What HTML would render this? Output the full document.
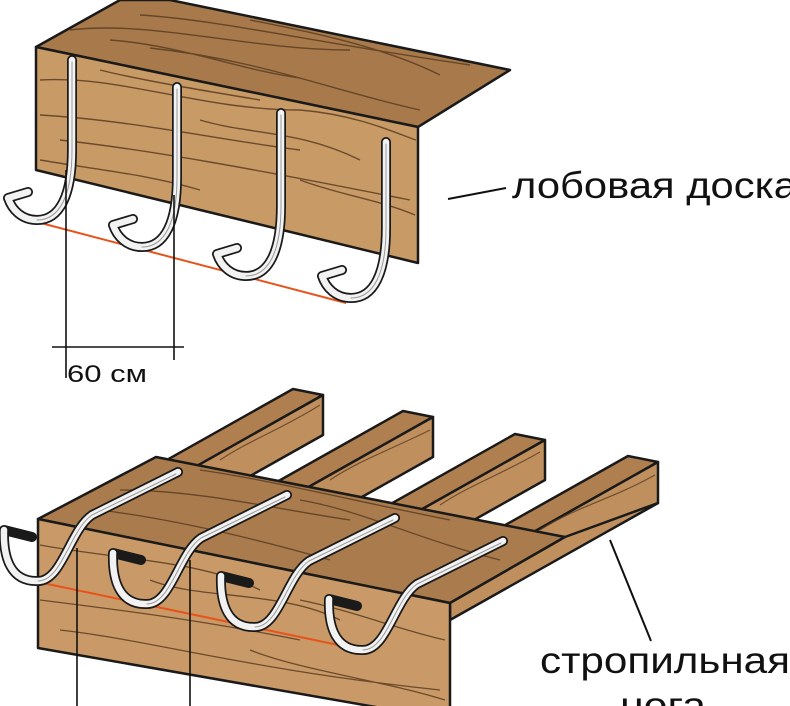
<!DOCTYPE html>
<html><head><meta charset="utf-8"><style>
html,body{margin:0;padding:0;background:#fff;width:790px;height:706px;overflow:hidden}
svg{display:block}
text{font-family:"Liberation Sans","DejaVu Sans",sans-serif;fill:#111}
</style></head><body>
<svg width="790" height="706" viewBox="0 0 790 706" xmlns="http://www.w3.org/2000/svg">
<!-- TOP BOARD -->
<polygon points="36,47 120,0 170,0 510,70 418,127" fill="#a87a4b" stroke="#1a1a1a" stroke-width="2.5" stroke-linejoin="round"/>
<polygon points="36,47 418,127 418,263 36,170" fill="#c89a66" stroke="#1a1a1a" stroke-width="2.5" stroke-linejoin="round"/>
<g fill="none" stroke="#5a3d22" stroke-width="1.4" opacity="0.85">
<path d="M70,30 C150,20 250,50 350,50 M140,15 C220,20 300,40 470,65 M150,48 C260,60 330,90 420,110 M110,40 C180,45 240,70 300,78 M250,20 C300,30 380,45 440,75"/>
<path d="M40,80 C120,75 200,110 300,110 C360,115 400,135 416,140 M40,115 C130,120 220,140 300,150 M100,70 C140,80 200,90 260,100 M60,140 C150,150 260,170 410,200 M200,120 C250,135 300,130 360,160 M300,180 C340,195 380,200 415,215 M40,160 C100,170 150,175 200,190"/>
</g>
<line x1="448" y1="199" x2="506" y2="188" stroke="#111" stroke-width="2"/>
<text x="512" y="198" font-size="37" textLength="285" lengthAdjust="spacingAndGlyphs">лобовая доска</text>
<line x1="37" y1="222" x2="346" y2="303" stroke="#e8531c" stroke-width="2"/>
<!-- top hooks -->
<g fill="none" stroke-linecap="round" stroke-linejoin="round">
<g>
<path d="M72,60 L72,150 C72,195 60,220 37,220 C22,220 12,210 8,198 L28,192" stroke="#1a1a1a" stroke-width="10"/>
<path d="M72,60 L72,150 C72,195 60,220 37,220 C22,220 12,210 8,198 L28,192" stroke="#f2f2f2" stroke-width="6.5"/>
<path d="M72,62 L72,150 C72,195 60,220 37,220" stroke="#999" stroke-width="1"/>
</g>
<g transform="translate(105,27)"><path d="M72,60 L72,150 C72,195 60,220 37,220 C22,220 12,210 8,198 L28,192" stroke="#1a1a1a" stroke-width="10"/><path d="M72,60 L72,150 C72,195 60,220 37,220 C22,220 12,210 8,198 L28,192" stroke="#f2f2f2" stroke-width="6.5"/><path d="M72,62 L72,150 C72,195 60,220 37,220" stroke="#999" stroke-width="1"/></g>
<g transform="translate(209,56)"><path d="M72,57 L72,150 C72,195 60,220 37,220 C22,220 12,210 8,198 L28,192" stroke="#1a1a1a" stroke-width="10"/><path d="M72,57 L72,150 C72,195 60,220 37,220 C22,220 12,210 8,198 L28,192" stroke="#f2f2f2" stroke-width="6.5"/><path d="M72,59 L72,150 C72,195 60,220 37,220" stroke="#999" stroke-width="1"/></g>
<g transform="translate(314,78)"><path d="M72,64 L72,150 C72,195 60,220 37,220 C22,220 12,210 8,198 L28,192" stroke="#1a1a1a" stroke-width="10"/><path d="M72,64 L72,150 C72,195 60,220 37,220 C22,220 12,210 8,198 L28,192" stroke="#f2f2f2" stroke-width="6.5"/><path d="M72,66 L72,150 C72,195 60,220 37,220" stroke="#999" stroke-width="1"/></g>
</g>
<g stroke="#111" stroke-width="1.6">
<line x1="66" y1="170" x2="66" y2="378"/>
<line x1="174" y1="195" x2="174" y2="360"/>
<line x1="52" y1="347" x2="184" y2="347"/>
</g>
<text x="67" y="382" font-size="24" textLength="80" lengthAdjust="spacingAndGlyphs">60 см</text>

<!-- BOTTOM: rafters -->
<g stroke="#1a1a1a" stroke-width="2.5" stroke-linejoin="round">
<polygon points="293,389 323,395 83,530 53,524" fill="#b07f50"/>
<polygon points="323,395 323,435 83,570 83,530" fill="#c08f5e"/>
<polygon points="403,411 433,417 193,552 163,546" fill="#b07f50"/>
<polygon points="433,417 433,457 193,592 193,552" fill="#c08f5e"/>
<polygon points="515,434 545,440 305,575 275,569" fill="#b07f50"/>
<polygon points="545,440 545,480 305,615 305,575" fill="#c08f5e"/>
<polygon points="628,456 658,462 418,597 388,591" fill="#b07f50"/>
<polygon points="658,462 658,503 440,625 418,597" fill="#c08f5e"/>
</g>
<g fill="none" stroke="#5a3d22" stroke-width="1.2" opacity="0.8">
<path d="M320,405 C280,430 250,440 220,460 M430,430 C390,450 360,460 330,480 M540,452 C500,475 470,485 440,505 M655,475 C610,500 580,505 540,530"/>
</g>
<polygon points="38,519 156,457 565,537 450,603" fill="#a97b4d" stroke="#1a1a1a" stroke-width="2.5" stroke-linejoin="round"/>
<polygon points="450,603 565,537 658,503 450,620" fill="#c08f5e" stroke="#1a1a1a" stroke-width="2.5" stroke-linejoin="round"/>
<polygon points="38,519 450,603 450,720 38,648" fill="#c99a67" stroke="#1a1a1a" stroke-width="2.5" stroke-linejoin="round"/>
<g fill="none" stroke="#5a3d22" stroke-width="1.3" opacity="0.85">
<path d="M120,490 C200,490 280,510 350,520 M200,470 C270,480 350,500 450,520 M100,510 C180,520 260,540 330,560 M300,500 C360,510 420,540 500,560"/>
<path d="M40,545 C120,560 200,560 260,590 M40,600 C120,610 200,620 300,640 M60,630 C150,640 250,670 440,690 M150,580 C200,600 280,590 340,620 M250,650 C300,670 380,680 445,700 M300,600 C350,610 400,630 445,640"/>
</g>
<line x1="38" y1="582" x2="362" y2="650" stroke="#e8531c" stroke-width="2"/>
<!-- bottom hooks -->
<g fill="none" stroke-linecap="round" stroke-linejoin="round">
<g>
<path d="M178,472 L92,515 C70,530 62,581 38,581 C12,582 3,560 4,530 L32,537" stroke="#1a1a1a" stroke-width="10"/>
<path d="M178,472 L92,515 C70,530 62,581 38,581 C12,582 3,560 4,530" stroke="#f2f2f2" stroke-width="6.5"/>
<path d="M176,474 L92,515 C70,530 62,581 38,581" stroke="#999" stroke-width="1"/>
</g>
<g transform="translate(109,23)">
<path d="M178,472 L92,515 C70,530 62,581 38,581 C12,582 3,560 4,530 L32,537" stroke="#1a1a1a" stroke-width="10"/>
<path d="M178,472 L92,515 C70,530 62,581 38,581 C12,582 3,560 4,530" stroke="#f2f2f2" stroke-width="6.5"/>
<path d="M176,474 L92,515 C70,530 62,581 38,581" stroke="#999" stroke-width="1"/>
</g>
<g transform="translate(217,46)">
<path d="M178,472 L92,515 C70,530 62,581 38,581 C12,582 3,560 4,530 L32,537" stroke="#1a1a1a" stroke-width="10"/>
<path d="M178,472 L92,515 C70,530 62,581 38,581 C12,582 3,560 4,530" stroke="#f2f2f2" stroke-width="6.5"/>
<path d="M176,474 L92,515 C70,530 62,581 38,581" stroke="#999" stroke-width="1"/>
</g>
<g transform="translate(325,69)">
<path d="M178,472 L92,515 C70,530 62,581 38,581 C12,582 3,560 4,530 L32,537" stroke="#1a1a1a" stroke-width="10"/>
<path d="M178,472 L92,515 C70,530 62,581 38,581 C12,582 3,560 4,530" stroke="#f2f2f2" stroke-width="6.5"/>
<path d="M176,474 L92,515 C70,530 62,581 38,581" stroke="#999" stroke-width="1"/>
</g>
</g>
<g stroke="#111" stroke-width="1.6">
<line x1="77" y1="548" x2="77" y2="706"/>
<line x1="190" y1="560" x2="190" y2="706"/>
</g>
<line x1="610" y1="540" x2="651" y2="641" stroke="#111" stroke-width="2"/>
<text x="540" y="673" font-size="37" textLength="250" lengthAdjust="spacingAndGlyphs">стропильная</text>
<text x="620" y="718" font-size="37" textLength="86" lengthAdjust="spacingAndGlyphs">нога</text>
</svg>
</body></html>
